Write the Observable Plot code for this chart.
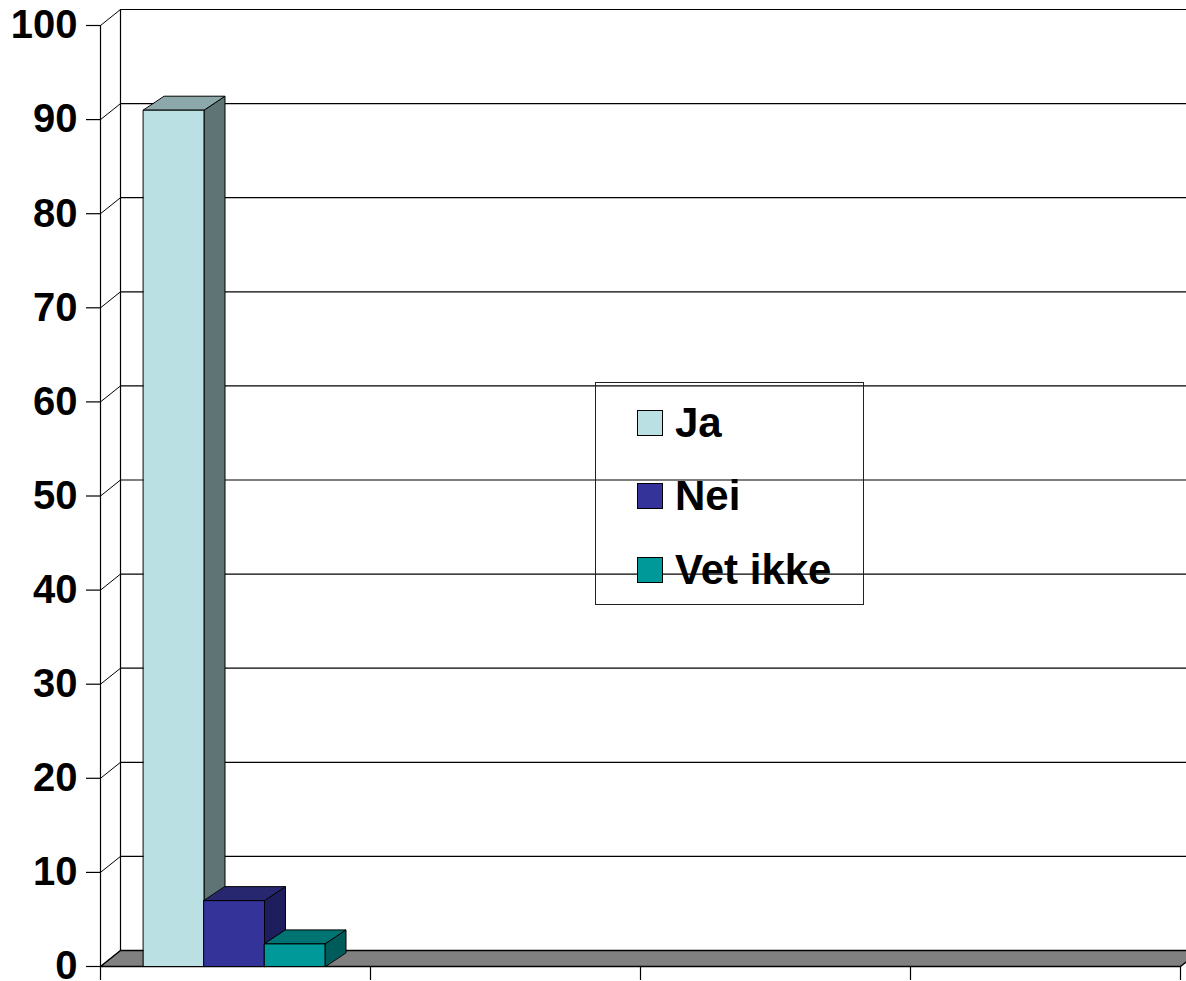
<!DOCTYPE html>
<html>
<head>
<meta charset="utf-8">
<script src="https://cdn.jsdelivr.net/npm/d3@7"></script>
<script src="https://cdn.jsdelivr.net/npm/@observablehq/plot@0.6"></script>
<style>
  html, body { margin: 0; padding: 0; background: #fff; }
  #wrap { position: relative; width: 1186px; height: 981px; font-family: "Liberation Sans", Arial, sans-serif; }
  #legend { position: absolute; left: 595px; top: 382px; width: 269px; height: 223px; box-sizing: border-box; border: 1px solid #222; }
  .item { position: absolute; left: 41px; height: 26px; display: flex; align-items: center; }
  .sw { width: 24px; height: 24px; border: 1px solid #000; margin-right: 12px; flex: none; }
  .lbl { font-size: 42px; font-weight: bold; color: #000; line-height: 26px; white-space: nowrap; }
</style>
</head>
<body>
<div id="wrap"></div>
<script>
// ---- data ----
const series = ["Ja", "Nei", "Vet ikke"];
const values = [91, 7, 2.4];
const frontColors = ["#BBE0E3", "#333399", "#009999"];
const sideColors = ["#5F7475", "#1E1E5E", "#005B5B"];
const topColors = ["#8DA8AA", "#27276F", "#007373"];
const yTicks = [0, 10, 20, 30, 40, 50, 60, 70, 80, 90, 100];
const xTicks = [0, 1, 2, 3, 4];

// ---- layout ----
const W = 1186, H = 981;
const mL = 100, mR = 6, mT = 25, mB = 15;
const kx = (W - mL - mR) / 4;     // px per x unit
const ky = (H - mT - mB) / 100;   // px per y unit
const wallDX = 20 / kx, wallDY = 16 / ky;
const barDX = 21 / kx, barDY = 14 / ky;
const barW = 60.5 / kx, groupStart = 43 / kx;

const marks = [];
// back wall gridlines
const xEnd = 4 + 0.2;
marks.push(Plot.ruleY(yTicks, {y: d => d + wallDY, x1: wallDX, x2: xEnd, stroke: "#000", strokeWidth: 1.2}));
// connectors from front axis to back wall
marks.push(Plot.link(yTicks, {x1: 0, y1: d => d, x2: wallDX, y2: d => d + wallDY, stroke: "#000", strokeWidth: 1}));
// back wall left edge
marks.push(Plot.ruleX([wallDX], {y1: wallDY, y2: 100 + wallDY, stroke: "#000", strokeWidth: 1.2}));
// floor
const floor = [[0, 0], [4, 0], [4 + wallDX, wallDY], [wallDX, wallDY]];
marks.push(Plot.line(floor, {x: d => d[0], y: d => d[1], curve: "linear-closed", fill: "#808080", stroke: "#000", strokeWidth: 1.5}));
// front axis line
marks.push(Plot.ruleX([0], {y1: 0, y2: 100, stroke: "#000", strokeWidth: 1.2}));

series.forEach((s, i) => {
  const x0 = groupStart + i * barW, x1 = x0 + barW, v = values[i];
  const side = [[x1, 0], [x1, v], [x1 + barDX, v + barDY], [x1 + barDX, barDY]];
  const top = [[x0, v], [x1, v], [x1 + barDX, v + barDY], [x0 + barDX, v + barDY]];
  const front = [[x0, 0], [x1, 0], [x1, v], [x0, v]];
  marks.push(Plot.line(side, {x: d => d[0], y: d => d[1], curve: "linear-closed", fill: sideColors[i], stroke: "#000", strokeWidth: 1}));
  marks.push(Plot.line(top, {x: d => d[0], y: d => d[1], curve: "linear-closed", fill: topColors[i], stroke: "#000", strokeWidth: 1}));
  marks.push(Plot.line(front, {x: d => d[0], y: d => d[1], curve: "linear-closed", fill: frontColors[i], stroke: "#000", strokeWidth: 1}));
});

// axes
marks.push(Plot.axisY(yTicks, {tickSize: 14, tickPadding: 9, fontSize: 40, fontWeight: "bold", stroke: "#000", strokeWidth: 1.2, label: null}));
marks.push(Plot.axisX(xTicks, {tickSize: 14, tickFormat: () => "", stroke: "#000", strokeWidth: 1.2, label: null}));

const chart = Plot.plot({
  width: W, height: H,
  marginLeft: mL, marginRight: mR, marginTop: mT, marginBottom: mB,
  x: {type: "linear", domain: [0, 4]},
  y: {type: "linear", domain: [0, 100]},
  style: {fontFamily: "'Liberation Sans', Arial, sans-serif", fontWeight: "bold", fontSize: "40px", color: "#000", background: "#fff"},
  marks
});
const wrap = document.getElementById("wrap");
wrap.appendChild(chart);

// legend
const legend = document.createElement("div");
legend.id = "legend";
const tops = [27, 100, 174];
series.forEach((s, i) => {
  const item = document.createElement("div");
  item.className = "item";
  item.style.top = tops[i] + "px";
  const sw = document.createElement("div");
  sw.className = "sw";
  sw.style.background = frontColors[i];
  const lbl = document.createElement("span");
  lbl.className = "lbl";
  lbl.textContent = s;
  item.appendChild(sw); item.appendChild(lbl);
  legend.appendChild(item);
});
wrap.appendChild(legend);
</script>
</body>
</html>
